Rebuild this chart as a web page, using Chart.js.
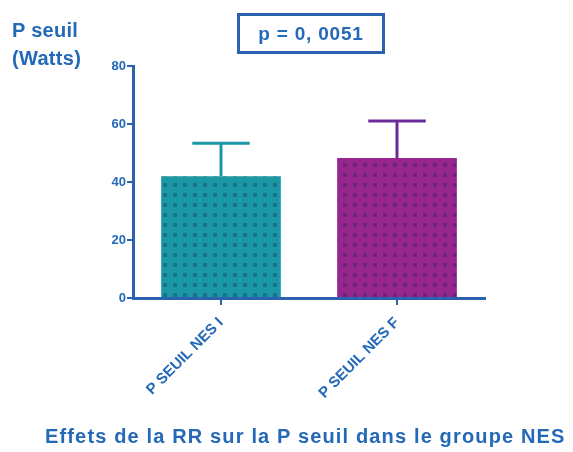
<!DOCTYPE html>
<html lang="fr">
  <head>
    <meta charset="UTF-8" />
    <title>P seuil - groupe NES</title>
    <script src="https://cdn.jsdelivr.net/npm/chart.js@4/dist/chart.umd.min.js"></script>
    <style>
      html, body { margin: 0; padding: 0; background: #fff; }
      #wrap { position: relative; width: 573px; height: 452px; font-family: "Liberation Sans", Arial, sans-serif; }
      #c { position: absolute; left: 0; top: 0; }
      .txt { position: absolute; color: #2369b8; font-weight: bold; white-space: nowrap; }
      #ylab { left: 12px; top: 16px; font-size: 20px; line-height: 28px; letter-spacing: 0.3px; }
      #pbox { left: 237px; top: 13px; width: 142px; height: 35px; border: 3px solid #2a62b0; font-size: 19px; line-height: 35px; text-align: center; letter-spacing: 0.8px; }
      #title { left: 45px; top: 425px; font-size: 20px; letter-spacing: 1.15px; }
    </style>
  </head>
  <body>
    <div id="wrap">
      <canvas id="c" width="573" height="452"></canvas>
      <div class="txt" id="ylab">P seuil<br />(Watts)</div>
      <div class="txt" id="pbox">p = 0, 0051</div>
      <div class="txt" id="title">Effets de la RR sur la P seuil dans le groupe NES</div>
    </div>

    <script>
      // données
      const categories = ["P SEUIL NES I", "P SEUIL NES F"];
      const moyennes = [42, 48.3];
      const ecartTypes = [11.4, 12.7];
      const barColors = ["#1b98a6", "#97278f"];
      const errColors = ["#1b98a6", "#6a2a9a"];
      const yTicks = [0, 20, 40, 60, 80];

      const axisBlue = "#2a62b0";
      const textBlue = "#2369b8";

      // motif à points pour le remplissage des barres
      function dotPattern(base) {
        const p = document.createElement("canvas");
        p.width = 10;
        p.height = 10;
        const g = p.getContext("2d");
        g.fillStyle = base;
        g.fillRect(0, 0, 10, 10);
        g.fillStyle = "rgba(20, 30, 60, 0.3)";
        g.fillRect(3, 3, 4, 4);
        return g.createPattern(p, "repeat");
      }

      // barres d'erreur (moyenne + écart-type)
      const errorBars = {
        id: "errorBars",
        afterDatasetsDraw(chart) {
          const ctx = chart.ctx;
          const meta = chart.getDatasetMeta(0);
          const y = chart.scales.y;
          ctx.save();
          meta.data.forEach((bar, i) => {
            const top = y.getPixelForValue(moyennes[i] + ecartTypes[i]);
            const half = bar.width * 0.24;
            ctx.strokeStyle = errColors[i];
            ctx.lineWidth = 3;
            ctx.beginPath();
            ctx.moveTo(bar.x, bar.y);
            ctx.lineTo(bar.x, top);
            ctx.moveTo(bar.x - half, top);
            ctx.lineTo(bar.x + half, top);
            ctx.stroke();
          });
          ctx.restore();
        },
      };

      new Chart(document.getElementById("c"), {
        type: "bar",
        data: {
          labels: categories,
          datasets: [
            {
              data: moyennes,
              backgroundColor: barColors.map(dotPattern),
              barPercentage: 0.68,
              categoryPercentage: 1,
            },
          ],
        },
        options: {
          responsive: false,
          animation: false,
          layout: { padding: { left: 93, top: 66, right: 88, bottom: 44 } },
          plugins: { legend: { display: false }, tooltip: { enabled: false } },
          scales: {
            x: {
              offset: true,
              grid: { drawOnChartArea: false, drawTicks: true, tickLength: 7, color: axisBlue, lineWidth: 2, offset: false },
              border: { color: axisBlue, width: 3 },
              ticks: {
                color: textBlue,
                font: { family: "Liberation Sans", size: 15, weight: "bold" },
                minRotation: 45,
                maxRotation: 45,
                padding: 9,
              },
              afterFit: (s) => { s.height = 110; },
            },
            y: {
              min: 0,
              max: 80,
              afterBuildTicks: (s) => { s.ticks = yTicks.map((v) => ({ value: v })); },
              grid: { drawOnChartArea: false, drawTicks: true, tickLength: 6, color: axisBlue, lineWidth: 2 },
              border: { color: axisBlue, width: 3 },
              ticks: {
                color: textBlue,
                font: { family: "Liberation Sans", size: 13, weight: "bold" },
                padding: 1,
              },
              afterFit: (s) => { s.width = 40; },
            },
          },
        },
        plugins: [errorBars],
      });
    </script>
  </body>
</html>
